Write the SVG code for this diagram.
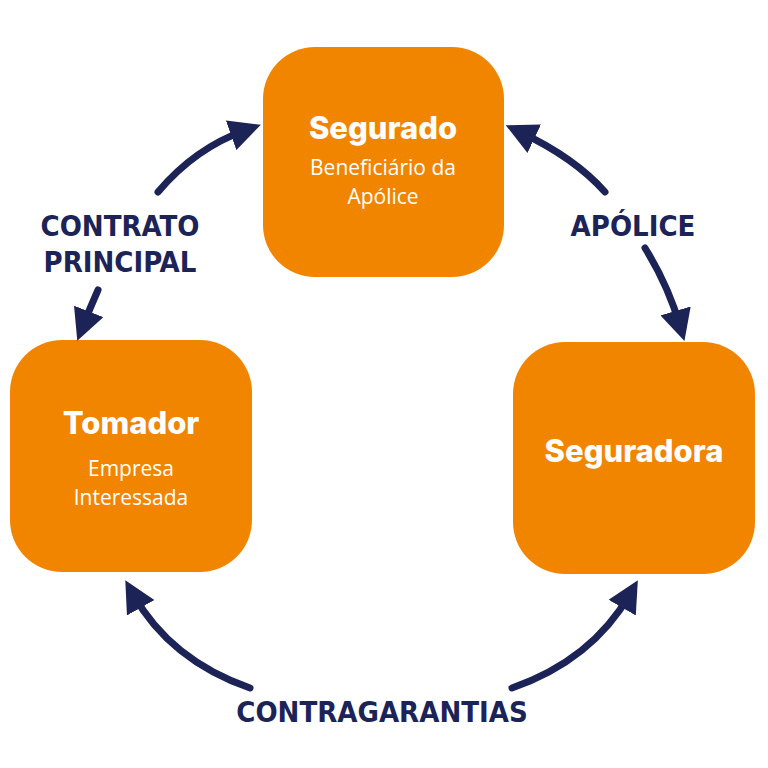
<svg xmlns="http://www.w3.org/2000/svg" width="768" height="768" viewBox="0 0 768 768">
<style>
.box{fill:#f28500}
.t{font-family:Inter,"Open Sans",sans-serif;font-weight:800;fill:#fff;text-anchor:middle;font-size:31px}
.s{font-family:"Open Sans",sans-serif;fill:#fff;text-anchor:middle;font-size:21px}
.c{fill:none;stroke:#1c2357;stroke-width:7;stroke-linecap:round}
.l{font-family:"DejaVu Sans Condensed","Roboto",sans-serif;font-weight:bold;fill:#1c2357;text-anchor:middle;font-size:29px}
</style>
<defs>
<marker id="a" viewBox="0 0 10 10" refX="5" refY="5" markerWidth="4.5" markerHeight="4.5" orient="auto-start-reverse" markerUnits="strokeWidth">
<path d="M0,0 L10,5 L0,10 Z" fill="#1c2357"/>
</marker>
</defs>
<g id="segurado"><rect class="box" x="263" y="47" width="241" height="230" rx="52"/>
<text class="t" x="383" y="139">Segurado</text>
<text class="s" x="383" y="175">Beneficiário da</text>
<text class="s" x="383" y="204">Apólice</text></g>
<g id="tomador"><rect class="box" x="10" y="340" width="242" height="232" rx="52"/>
<text class="t" x="131" y="434">Tomador</text>
<text class="s" x="131" y="476">Empresa</text>
<text class="s" x="131" y="505">Interessada</text></g>
<g id="seguradora"><rect class="box" x="513" y="342" width="242" height="232" rx="52"/>
<text class="t" x="634" y="462">Seguradora</text></g>
<g id="connectors">
<path class="c" d="M158,192 Q195,148 246,130" marker-end="url(#a)"/>
<path class="c" d="M98,290 Q90,308 83,326" marker-end="url(#a)"/>
<path class="c" d="M520,132 Q575,158 605,192" marker-start="url(#a)"/>
<path class="c" d="M645,248 Q668,285 680,326" marker-end="url(#a)"/>
<path class="c" d="M250,688 Q170,660 133,594" marker-end="url(#a)"/>
<path class="c" d="M512,688 Q592,660 630,594" marker-end="url(#a)"/>
</g>
<g id="labels">
<text class="l" x="120" y="236">CONTRATO</text>
<text class="l" x="120" y="272">PRINCIPAL</text>
<text class="l" x="633" y="236">APÓLICE</text>
<text class="l" x="382" y="722">CONTRAGARANTIAS</text>
</g>
</svg>
